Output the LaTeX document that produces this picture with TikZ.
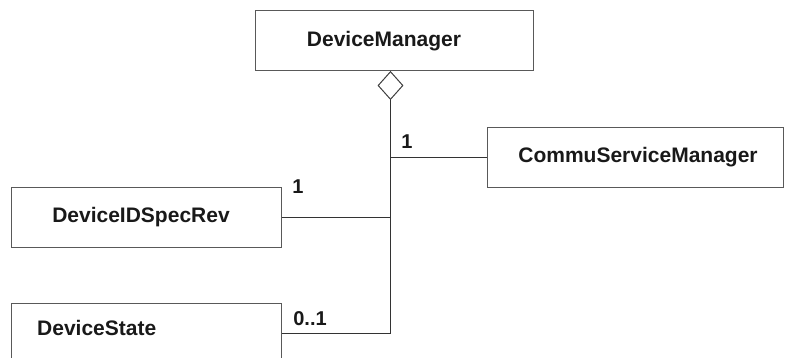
\documentclass[tikz,border=0pt]{standalone}
\usepackage{fontspec}
\setmainfont{Liberation Sans}
\usetikzlibrary{shapes.geometric}

\begin{document}
\begin{tikzpicture}[x=1pt,y=-1pt,
    classbox/.style={draw=black!65,line width=1pt,inner sep=0pt},
    classname/.style={inner sep=0pt,text=black!90,font=\bfseries\fontsize{21}{25}\selectfont},
    assoc/.style={draw=black!80,line width=1.6pt},
    mult/.style={inner sep=0pt,text=black!90,font=\bfseries\fontsize{20}{24}\selectfont}]
\clip (0,0) rectangle (786,358);
% class boxes
\foreach \n/\x/\y/\w in {mgr/394/41/278, comm/635/157.5/296, idrev/146/217.5/270, state/146/333.5/270}
    \node[classbox,minimum width=\w pt,minimum height=60pt] (\n) at (\x,\y) {};
\node[classname] (mgrname) at (384,41) {DeviceManager};
\node[classname] (commname) at (638,157) {CommuServiceManager};
\node[classname] (idrevname) at (141,217) {DeviceIDSpecRev};
\node[classname,anchor=west] (statename) at (37,328) {DeviceState};
% aggregation
\node[diamond,draw=black!75,fill=white,line width=1pt,inner sep=0pt,
      minimum width=25pt,minimum height=28pt,anchor=north] (agg) at (390.5,71) {};
\draw[assoc] (agg.south) |- (state.east);
\draw[assoc] (idrev.east) -- (idrev.east -| agg.south);
\draw[assoc] (comm.west) -- (comm.west -| agg.south);
% multiplicities
\foreach \n/\x/\y/\t in {mcomm/407/142/1, midrev/298/187/1, mstate/310/319/0..1}
    \node[mult] (\n) at (\x,\y) {\t};
\end{tikzpicture}
\end{document}
